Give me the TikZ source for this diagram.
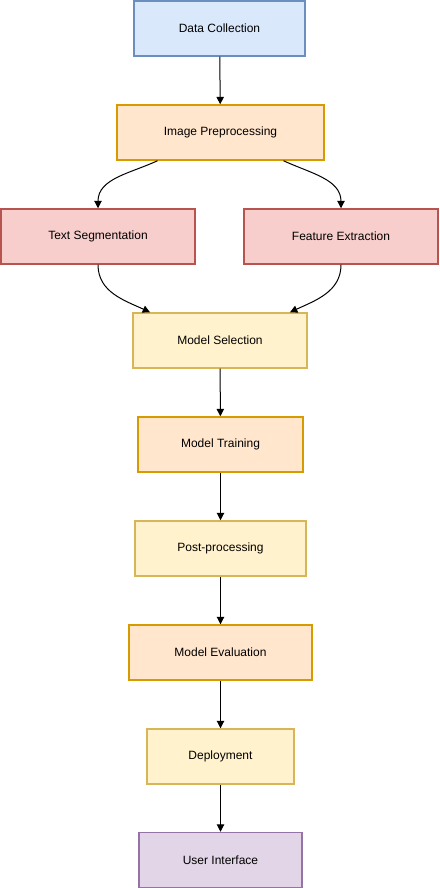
\documentclass[tikz,border=0pt]{standalone}
\usepackage{fontspec}
\setmainfont{Liberation Sans}
\usetikzlibrary{arrows.meta}

\definecolor{bluefill}{HTML}{DAE8FC}
\definecolor{blueline}{HTML}{6C8EBF}
\definecolor{orangefill}{HTML}{FFE6CC}
\definecolor{orangeline}{HTML}{D79B00}
\definecolor{redfill}{HTML}{F8CECC}
\definecolor{redline}{HTML}{B85450}
\definecolor{yellowfill}{HTML}{FFF2CC}
\definecolor{yellowline}{HTML}{D6B656}
\definecolor{purplefill}{HTML}{E1D5E7}
\definecolor{purpleline}{HTML}{9673A6}

\tikzset{
  block/.style={draw, line width=1.1pt, minimum height=41.25pt, inner sep=0pt, font=\fontsize{9}{11}\selectfont},
  blueblock/.style={block, fill=bluefill, draw=blueline},
  orangeblock/.style={block, fill=orangefill, draw=orangeline},
  redblock/.style={block, fill=redfill, draw=redline},
  yellowblock/.style={block, fill=yellowfill, draw=yellowline},
  purpleblock/.style={block, fill=purplefill, draw=purpleline},
  arr/.style={line width=0.75pt, -{Triangle[length=5.5pt,width=5.5pt]}}
}

\begin{document}
\begin{tikzpicture}[x=0.75pt, y=-0.75pt]
			%%%%% START %%%%%
			\useasboundingbox (0, 0) rectangle (439, 888);
			
			\node[blueblock, minimum width=128.25pt] (collect) at (219.5, 28.5) {Data Collection};
			\node[orangeblock, minimum width=155.25pt] (prep) at (220.5, 132.5) {Image Preprocessing};
			
			\node[redblock, minimum width=145.5pt] (seg) at (98, 236.5) {Text Segmentation};
			\node[redblock, minimum width=145.5pt] (feat) at (341, 236.5) {Feature Extraction};
			
			\node[yellowblock, minimum width=130.5pt] (select) at (220, 340.5) {Model Selection};
			\node[orangeblock, minimum width=123.75pt] (train) at (220.5, 444.5) {Model Training};
			\node[yellowblock, minimum width=128.25pt] (post) at (220.5, 548.5) {Post-processing};
			\node[orangeblock, minimum width=137.25pt] (eval) at (220.5, 652.5) {Model Evaluation};
			\node[yellowblock, minimum width=110.25pt] (deploy) at (220.5, 756.5) {Deployment};
			\node[purpleblock, minimum width=122.25pt] (ui) at (220.5, 860) {User Interface};
			
			% straight arrows
			\draw[arr] (collect) -- (prep);
			\draw[arr] (select) -- (train);
			\draw[arr] (train) -- (post);
			\draw[arr] (post) -- (eval);
			\draw[arr] (eval) -- (deploy);
			\draw[arr] (deploy) -- (ui);
			
			% curved arrows
			\draw[arr] ([xshift=-47.25pt]prep.south) to[out=-155, in=90] (seg.north);
			\draw[arr] ([xshift=47.25pt]prep.south) to[out=-25, in=90] (feat.north);
			\draw[arr] (seg.south) to[out=-90, in=155] ([xshift=-52.5pt]select.north);
			\draw[arr] (feat.south) to[out=-90, in=25] ([xshift=52.5pt]select.north);
			
			%%%%% END %%%%%
\end{tikzpicture}
\end{document}
